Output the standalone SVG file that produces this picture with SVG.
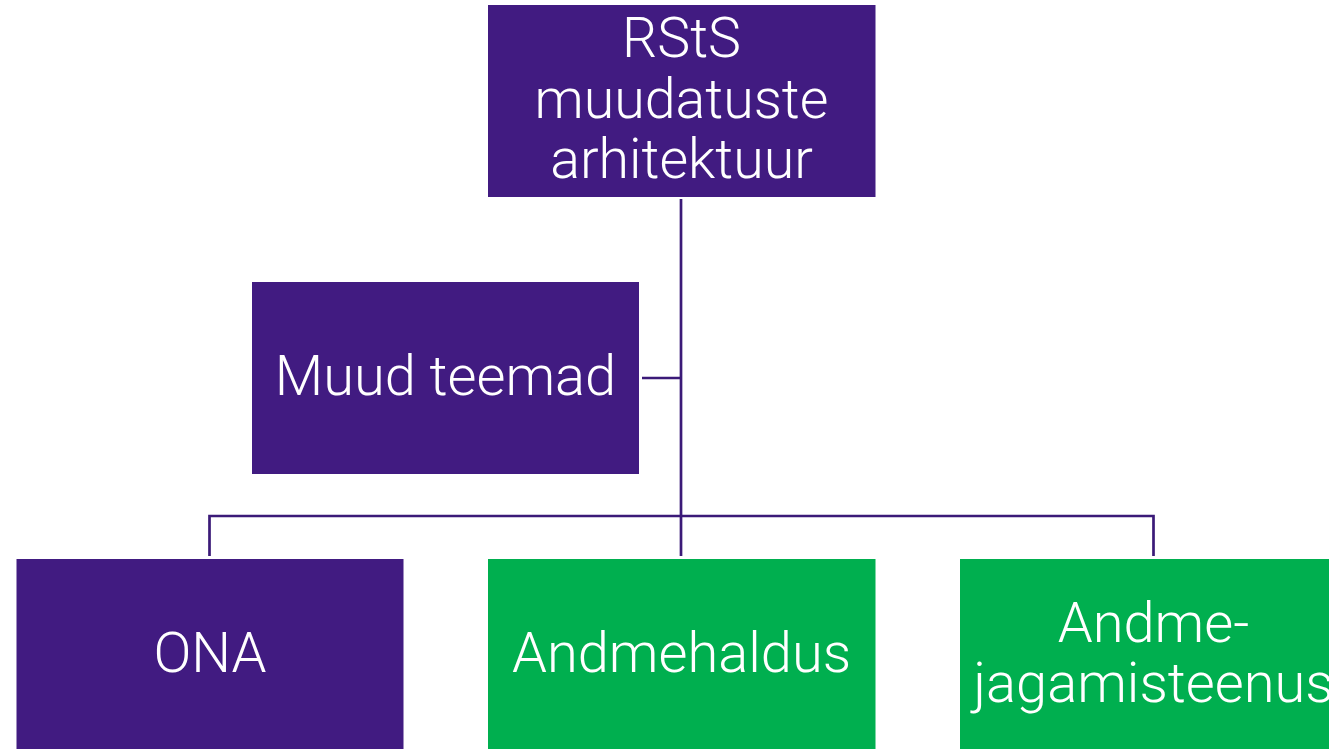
<svg xmlns="http://www.w3.org/2000/svg" width="1329" height="749" viewBox="0 0 1329 749">
<style>
.p{fill:#411b81}
.g{fill:#00af4f}
.t{fill:#fff;font-family:Roboto,"Liberation Sans",sans-serif;font-weight:300;text-anchor:middle}
.c{stroke:#3b1a78;stroke-width:2.7;fill:none}
</style>
<rect width="1329" height="749" fill="#fff"/>
<g id="connectors">
<path class="c" d="M681 199V556"/>
<path class="c" d="M642 378H681"/>
<path class="c" d="M209.5 556V516H1153.5V556"/>
</g>
<g id="top">
<rect class="p" x="488" y="5" width="387.5" height="192"/>
<text class="t" font-size="55.5"><tspan x="681.5" y="57">RStS</tspan><tspan x="681.5" y="118">muudatuste</tspan><tspan x="681.5" y="178">arhitektuur</tspan></text>
</g>
<g id="muud">
<rect class="p" x="252" y="282" width="387" height="192"/>
<text class="t" x="445.5" y="395" font-size="56">Muud teemad</text>
</g>
<g id="ona">
<rect class="p" x="16.5" y="559" width="387" height="192"/>
<text class="t" x="210" y="672" font-size="56">ONA</text>
</g>
<g id="andmehaldus">
<rect class="g" x="488" y="559" width="387.5" height="192"/>
<text class="t" x="681.5" y="672" font-size="56">Andmehaldus</text>
</g>
<g id="andmejagamisteenus">
<rect class="g" x="960" y="559" width="387" height="192"/>
<text class="t" font-size="56"><tspan x="1153.5" y="642">Andme-</tspan><tspan x="1153.5" y="702">jagamisteenus</tspan></text>
</g>
</svg>
